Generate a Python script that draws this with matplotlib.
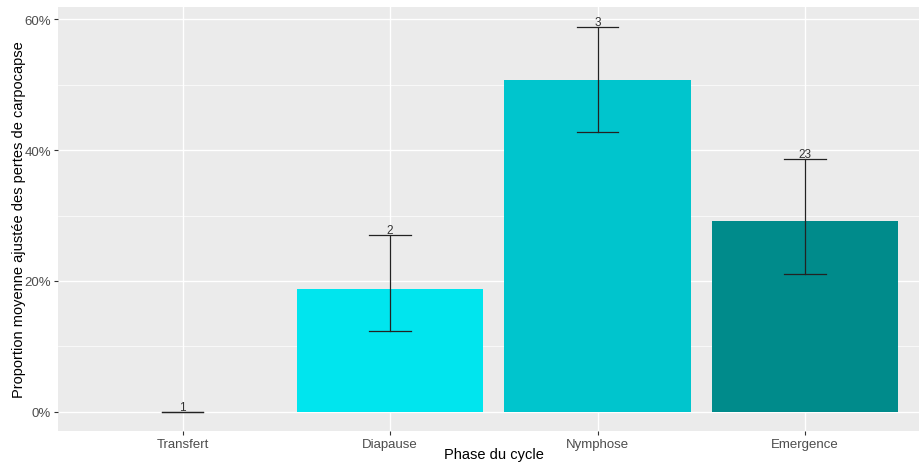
import numpy as np
import matplotlib.pyplot as plt
from matplotlib.ticker import FuncFormatter, MultipleLocator

plt.rcParams['font.family'] = ['Liberation Sans', 'DejaVu Sans']

phases = ['Transfert', 'Diapause', 'Nymphose', 'Emergence']
moyenne = [0.0, 18.7, 50.8, 29.2]
borne_inf = [0.0, 12.4, 42.8, 21.1]
borne_sup = [0.0, 27.1, 58.9, 38.7]
effectifs = ['1', '2', '3', '23']
couleurs = ['#98F5FF', '#00E5EE', '#00C5CD', '#008B8B']

fig = plt.figure(figsize=(9.19, 4.64), dpi=100)
ax = fig.add_axes([58 / 919, 32 / 464, 871.5 / 919, 424 / 464])
ax.set_facecolor('#EBEBEB')

x = np.arange(len(phases))
ax.bar(x, moyenne, width=0.9, color=couleurs, zorder=2)

for i in range(len(phases)):
    ax.plot([x[i], x[i]], [borne_inf[i], borne_sup[i]], color='#222222', lw=0.9, zorder=3)
    ax.plot([x[i] - 0.1, x[i] + 0.1], [borne_inf[i], borne_inf[i]], color='#222222', lw=0.9, zorder=3)
    ax.plot([x[i] - 0.1, x[i] + 0.1], [borne_sup[i], borne_sup[i]], color='#222222', lw=0.9, zorder=3)
    ax.text(x[i], borne_sup[i] - 0.15, effectifs[i], ha='center', va='bottom',
            fontsize=8.5, color='#333333', zorder=4)

ax.set_xlim(-0.6, 3.6)
ax.set_ylim(-2.95, 61.9)
ax.set_xticks(x)
ax.set_xticklabels(phases)
ax.yaxis.set_major_locator(MultipleLocator(20))
ax.yaxis.set_minor_locator(MultipleLocator(10))
ax.yaxis.set_major_formatter(FuncFormatter(lambda v, p: '%d%%' % v))

ax.grid(which='major', color='white', lw=1.0, zorder=0)
ax.grid(which='minor', axis='y', color='white', lw=0.5, zorder=0)
ax.set_axisbelow(True)
for s in ax.spines.values():
    s.set_visible(False)

ax.tick_params(axis='both', which='major', length=3, color='#333333', labelsize=9.5,
               labelcolor='#4D4D4D', pad=2)
ax.tick_params(axis='y', which='minor', length=0)

ax.set_xlabel('Phase du cycle', fontsize=10.5, color='black')
ax.set_ylabel('Proportion moyenne ajustée des pertes de carpocapse', fontsize=10.5,
              color='black')
ax.xaxis.set_label_coords((494 - 58) / 871.5, -0.038)
ax.yaxis.set_label_coords(-0.0367, 0.5)

fig.savefig('out.png', dpi=100)
